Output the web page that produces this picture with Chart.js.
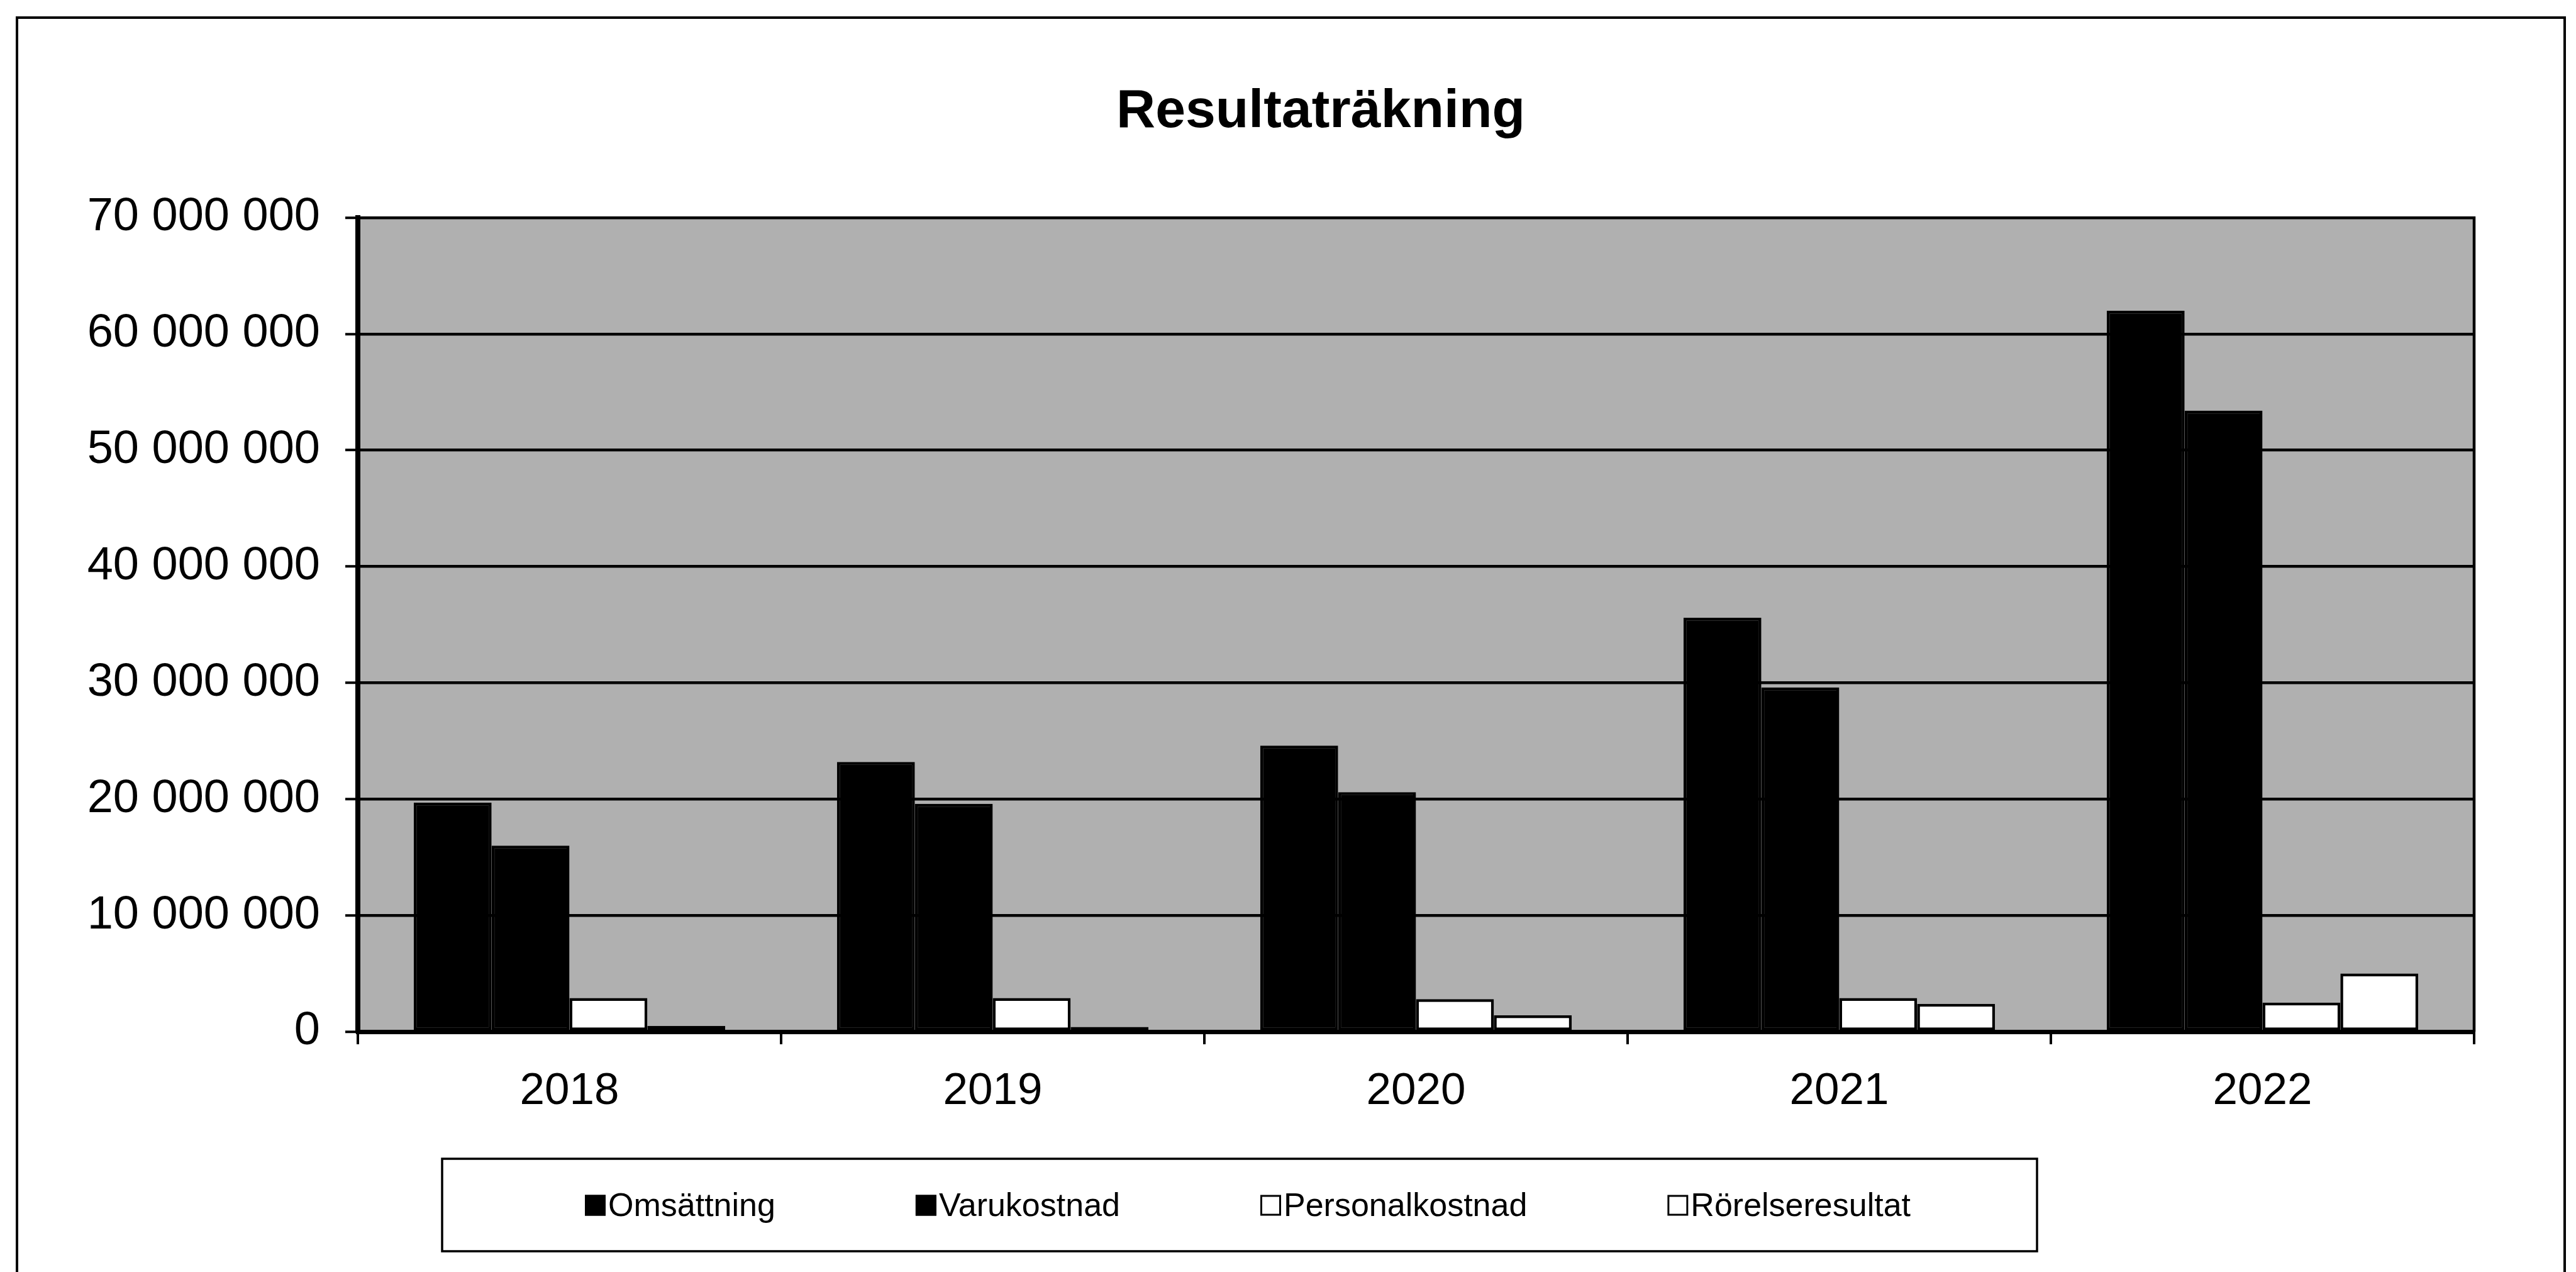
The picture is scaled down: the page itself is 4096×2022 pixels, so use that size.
<!DOCTYPE html>
<html><head><meta charset="utf-8">
<script src="https://cdn.jsdelivr.net/npm/chart.js@4.4.1/dist/chart.umd.min.js"></script>
<style>html,body{margin:0;padding:0;background:#fff;overflow:hidden}canvas{display:block}</style>
</head><body>
<canvas id="c" width="4096" height="2022" style="width:4096px;height:2022px"></canvas>
<script>
const chartTitle = 'Resultaträkning';
const categories = ['2018', '2019', '2020', '2021', '2022'];
const seriesNames = ['Omsättning', 'Varukostnad', 'Personalkostnad', 'Rörelseresultat'];
const omsattning = [19700000, 23200000, 24600000, 35600000, 62000000];
const varukostnad = [16000000, 19600000, 20600000, 29600000, 53400000];
const personalkostnad = [2900000, 2900000, 2800000, 2900000, 2500000];
const rorelseresultat = [500000, 400000, 1400000, 2400000, 5000000];
const yMin = 0, yMax = 70000000, yStep = 10000000;

const FONT = "'Liberation Sans', Arial, Helvetica, sans-serif";
const seriesFill = ['#000000', '#000000', '#ffffff', '#ffffff'];

function fmt(v) { return String(v).replace(/\B(?=(\d{3})+(?!\d))/g, ' '); }

const framePlugin = {
  id: 'frame',
  beforeDraw(chart) {
    const { ctx, chartArea: a } = chart;
    ctx.save();
    ctx.fillStyle = '#ffffff';
    ctx.fillRect(0, 0, chart.width, chart.height);
    ctx.fillStyle = '#b0b0b0';
    ctx.fillRect(a.left, a.top, a.right - a.left, a.bottom - a.top);
    ctx.restore();
  },
  afterDraw(chart) {
    const { ctx, chartArea: a } = chart;
    ctx.save();
    ctx.strokeStyle = '#000';
    ctx.lineWidth = 4.5;
    ctx.beginPath(); ctx.moveTo(a.right, a.top - 2); ctx.lineTo(a.right, a.bottom); ctx.stroke();
    ctx.lineWidth = 4;
    ctx.strokeRect(27, 28, 4078 - 27, 2100);
    ctx.fillStyle = '#000';
    ctx.font = 'bold 86px ' + FONT;
    ctx.textAlign = 'center';
    ctx.textBaseline = 'alphabetic';
    ctx.fillText(chartTitle, 2100, 202);
    ctx.lineWidth = 3.5;
    ctx.strokeRect(703, 1842, 3239 - 703, 1989 - 1842);
    ctx.font = '52px ' + FONT;
    ctx.textAlign = 'left';
    let x = 930;
    const box = 33, cy = 1916;
    chart.data.datasets.forEach(ds => {
      ctx.fillStyle = ds.backgroundColor;
      ctx.fillRect(x, cy - box / 2, box, box);
      ctx.lineWidth = 3;
      ctx.strokeRect(x + 1.5, cy - box / 2 + 1.5, box - 3, box - 3);
      ctx.fillStyle = '#000';
      ctx.fillText(ds.label, x + box + 4, 1933);
      x += box + 4 + ctx.measureText(ds.label).width + 223;
    });
    ctx.restore();
  }
};

const seriesData = [omsattning, varukostnad, personalkostnad, rorelseresultat];

new Chart(document.getElementById('c'), {
  type: 'bar',
  data: {
    labels: categories,
    datasets: seriesNames.map((name, i) => ({
      label: name,
      data: seriesData[i],
      backgroundColor: seriesFill[i],
      borderColor: '#000000',
      borderWidth: 4.5,
      borderSkipped: false,
      categoryPercentage: 0.736,
      barPercentage: 1.0
    }))
  },
  options: {
    responsive: false,
    animation: false,
    devicePixelRatio: 1,
    layout: { padding: { left: 0, right: 162, top: 346, bottom: 248 } },
    plugins: {
      legend: { display: false },
      title: { display: false },
      tooltip: { enabled: false }
    },
    scales: {
      x: {
        afterFit(scale) { scale.height = 134; },
        grid: { display: true, drawOnChartArea: false, drawTicks: true, tickLength: 20, color: '#000', lineWidth: 4, offset: true },
        border: { display: true, color: '#000', width: 7 },
        ticks: { color: '#000', padding: 33, font: { family: FONT, size: 71 }, maxRotation: 0 }
      },
      y: {
        min: yMin, max: yMax,
        afterFit(scale) { scale.width = 569; },
        grid: { color: '#000', lineWidth: 4.5, drawTicks: true, tickLength: 20, tickColor: '#000', tickWidth: 4 },
        border: { display: true, color: '#000', width: 8 },
        ticks: { stepSize: yStep, color: '#000', padding: 40, font: { family: FONT, size: 74 }, callback: v => fmt(v) }
      }
    }
  },
  plugins: [framePlugin]
});
</script>
</body></html>
